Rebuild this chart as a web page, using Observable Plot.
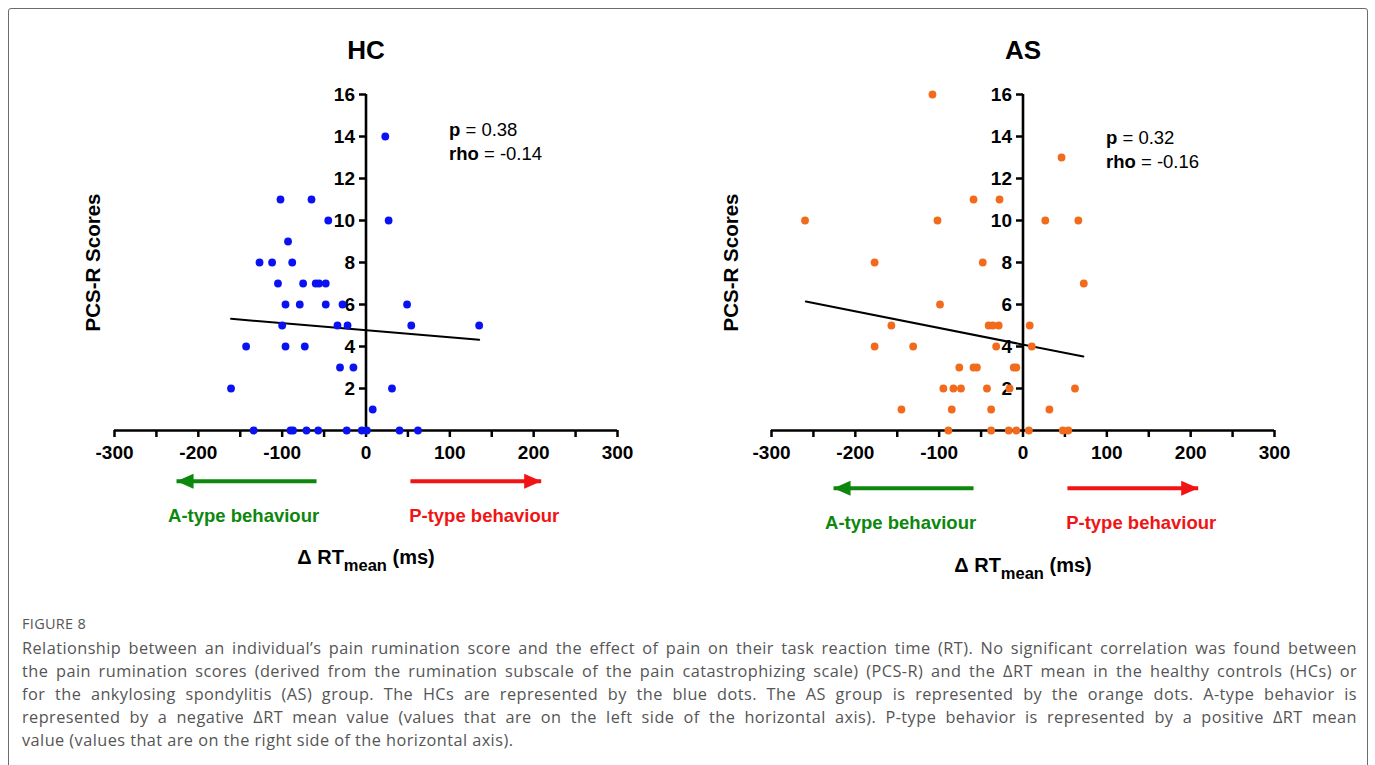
<!DOCTYPE html>
<html>
<head>
<meta charset="utf-8">
<script src="https://cdn.jsdelivr.net/npm/d3@7"></script>
<script src="https://cdn.jsdelivr.net/npm/@observablehq/plot@0.6"></script>
<style>
  html, body { margin: 0; padding: 0; background: #fff; }
  #page { position: relative; width: 1375px; height: 765px; overflow: hidden; background: #fff; }
  #frame { position: absolute; left: 8px; top: 8px; width: 1360px; height: 800px; border: 1px solid #6b6b6b; border-radius: 3px; box-sizing: border-box; }
  .panel { position: absolute; top: 0; }
  .panel svg { overflow: visible; }
  #caption { position: absolute; left: 22px; top: 613px; width: 1335px; font-family: "Open Sans", "Noto Sans", sans-serif; color: #555; }
  #caption .fig { font-size: 14.5px; line-height: 22px; letter-spacing: 0.3px; margin-bottom: 2px; }
  #caption .ln { font-size: 16.3px; line-height: 23px; letter-spacing: 0.45px; text-align: justify; text-align-last: justify; }
  #caption .ln.last { text-align-last: left; }
</style>
</head>
<body>
<div id="page">
  <div id="frame"></div>
  <div id="hc" class="panel" style="left:0px"></div>
  <div id="as" class="panel" style="left:657px"></div>
  <div id="caption"></div>
</div>
<script>
// ---------------- data ----------------
const hcX = [-161, -143, -134, -127, -112, -105, -102, -100, -96, -96, -93, -90, -87, -88, -79, -75, -73, -71, -65, -60, -56, -57, -48, -48, -45, -34, -31, -28, -23, -22, -15, -5, 1, 8, 23, 27, 31, 40, 62, 49, 54, 135];
const hcY = [2, 4, 0, 8, 8, 7, 11, 5, 6, 4, 9, 0, 0, 8, 6, 7, 4, 0, 11, 7, 7, 0, 7, 6, 10, 5, 3, 6, 0, 5, 3, 0, 0, 1, 14, 10, 2, 0, 0, 6, 5, 5];

const asX = [-260, -108, -177, -177, -157, -145, -131, -102, -99, -95, -89, -85, -83, -76, -74, -59, -59, -55, -48, -43, -41, -38, -38, -36, -32, -29, -28, -17, -16, -11, -8, -8, 7, 8, 10.5, 26.6, 31.5, 46, 66, 72.5, 62, 47.5, 54];
const asY = [10, 16, 8, 4, 5, 1, 4, 10, 6, 2, 0, 1, 2, 3, 2, 11, 3, 3, 8, 2, 5, 1, 0, 5, 4, 5, 11, 0, 2, 3, 3, 0, 0, 5, 4, 10, 1, 13, 10, 7, 2, 0, 0];

// fitted regression lines (endpoints)
const hcFitX = [-161, 135];
const hcFitY = [5.32, 4.32];
const asFitX = [-259, 72];
const asFitY = [6.14, 3.52];

// statistics
const statLabels = ["p", "rho"];
const hcStats = ["0.38", "-0.14"];
const asStats = ["0.32", "-0.16"];

// ticks
const xTicks = [-300, -200, -100, 0, 100, 200, 300];
const xMinorTicks = [-250, -150, -50, 50, 150, 250];
const yTicks = [2, 4, 6, 8, 10, 12, 14, 16];

// annotations (in ms along the x axis)
const arrowA = { from: -59, to: -226, label: "A-type behaviour", labelX: -146 };
const arrowP = { from: 53, to: 209, label: "P-type behaviour", labelX: 141 };
const xLabelParts = ["\u0394 RT", "mean", " (ms)"];
const yLabelText = "PCS-R Scores";

const captionHead = "FIGURE 8";
const captionLines = [
  "Relationship between an individual\u2019s pain rumination score and the effect of pain on their task reaction time (RT). No significant correlation was found between",
  "the pain rumination scores (derived from the rumination subscale of the pain catastrophizing scale) (PCS-R) and the \u0394RT mean in the healthy controls (HCs) or",
  "for the ankylosing spondylitis (AS) group. The HCs are represented by the blue dots. The AS group is represented by the orange dots. A-type behavior is",
  "represented by a negative \u0394RT mean value (values that are on the left side of the horizontal axis). P-type behavior is represented by a positive \u0394RT mean",
  "value (values that are on the right side of the horizontal axis)."
];

// ---------------- styling / layout ----------------
const GREEN = "#0d870d";
const RED = "#f01414";
const FONT = "'Liberation Sans', Arial, Helvetica, sans-serif";

const panels = [
  { el: "#hc", title: "HC", xs: hcX, ys: hcY, fitX: hcFitX, fitY: hcFitY, stats: hcStats, color: "#0a12f2", yLabelDx: -21, shift: 0, statShift: 0, xlShift: 0 },
  { el: "#as", title: "AS", xs: asX, ys: asY, fitX: asFitX, fitY: asFitY, stats: asStats, color: "#f26a1c", yLabelDx: -40, shift: 7, statShift: 8, xlShift: 8 }
];

const tickShape = { draw(context, l) { context.moveTo(0, 0); context.lineTo(0, -l); } };
const headRight = { draw(context) { context.moveTo(0, 0); context.lineTo(-17, -7.5); context.lineTo(-17, 7.5); context.closePath(); } };
const headLeft = { draw(context) { context.moveTo(0, 0); context.lineTo(17, -7.5); context.lineTo(17, 7.5); context.closePath(); } };

function drawPanel(p) {
  const pts = p.xs.map((x, i) => ({ x, y: p.ys[i] }));
  const fit = p.fitX.map((x, i) => ({ x, y: p.fitY[i] }));
  const stats = statLabels.map((l, i) => ({ text: `${l} = ${p.stats[i]}`, i }));
  const arrows = [{ ...arrowA, color: GREEN }, { ...arrowP, color: RED }];

  const chart = Plot.plot({
    width: 687,
    height: 600,
    marginLeft: 114,
    marginRight: 70,
    marginTop: 94,
    marginBottom: 170,
    x: { domain: [-300, 300] },
    y: { domain: [0, 16], axis: null },
    style: { fontFamily: FONT, background: "transparent", color: "black", overflow: "visible" },
    marks: [
      // x axis
      Plot.axisX({ ticks: xTicks, tickFormat: d => String(d), tickSize: 7, tickPadding: 8, fontSize: 19, fontWeight: "bold", strokeWidth: 2.5, label: null }),
      Plot.axisX({ ticks: xMinorTicks, tickSize: 7, text: null, strokeWidth: 2.5, label: null }),
      Plot.ruleY([0], { x1: -300, x2: 300, stroke: "black", strokeWidth: 2.6 }),
      // y axis at x = 0
      Plot.ruleX([0], { y1: 0, y2: 16, stroke: "black", strokeWidth: 2.6 }),
      Plot.vector(yTicks, { x: 0, y: d => d, length: 7, rotate: -90, anchor: "start", shape: tickShape, stroke: "black", strokeWidth: 2.5, strokeLinecap: "butt" }),
      Plot.text(yTicks, { x: 0, y: d => d, text: d => String(d), dx: -11, textAnchor: "end", lineAnchor: "middle", fontSize: 19, fontWeight: "bold", fill: "black" }),
      // regression line
      Plot.line(fit, { x: "x", y: "y", stroke: "black", strokeWidth: 2 }),
      // points
      Plot.dot(pts, { x: "x", y: "y", r: 3.9, fill: p.color, stroke: "none" }),
      // title
      Plot.text([p.title], { x: 0, y: 16, dy: -36, lineAnchor: "bottom", textAnchor: "middle", fontSize: 26, fontWeight: "bold", fill: "black" }),
      // y label
      Plot.text([yLabelText], { x: -300, y: 8, dx: p.yLabelDx, rotate: -90, textAnchor: "middle", lineAnchor: "middle", fontSize: 20.5, fontWeight: "bold", fill: "black" }),
      // statistics
      Plot.text([stats[0]], { x: 99, y: 16, dy: 41 + p.statShift, text: "text", textAnchor: "start", lineAnchor: "bottom", fontSize: 18.5, fontWeight: "normal", fill: "black" }),
      Plot.text([stats[1]], { x: 99, y: 16, dy: 65 + p.statShift, text: "text", textAnchor: "start", lineAnchor: "bottom", fontSize: 18.5, fontWeight: "normal", fill: "black" }),
      // behaviour arrows
      Plot.link(arrows, { x1: "from", x2: "to", y1: 0, y2: 0, dy: 50.7 + p.shift, stroke: "color", strokeWidth: 4 }),
      Plot.dot([arrows[0]], { x: "to", y: 0, dy: 50.7 + p.shift, symbol: headLeft, fill: GREEN, stroke: "none" }),
      Plot.dot([arrows[1]], { x: "to", y: 0, dy: 50.7 + p.shift, symbol: headRight, fill: RED, stroke: "none" }),
      Plot.text(arrows, { x: "labelX", y: 0, dy: 91.7 + p.shift, text: "label", fill: "color", textAnchor: "middle", lineAnchor: "bottom", fontSize: 18.5, fontWeight: "bold" }),
      // x label
      Plot.text([xLabelParts.join("")], { x: 0, y: 0, dy: 133.3 + p.xlShift, textAnchor: "middle", lineAnchor: "bottom", fontSize: 20, fontWeight: "bold", fill: "black" })
    ]
  });

  // rich text: bold stat labels and subscript in the x label
  const joined = xLabelParts.join("");
  d3.select(chart).selectAll("text").each(function () {
    const node = d3.select(this);
    if (this.children.length) return;
    const t = this.textContent;
    const m = t.match(/^(p|rho) = (.*)$/);
    if (m) {
      node.text(null);
      node.append("tspan").attr("font-weight", "bold").text(m[1]);
      node.append("tspan").attr("font-weight", "normal").text(" = " + m[2]);
    } else if (t === joined) {
      node.text(null);
      node.append("tspan").text(xLabelParts[0]);
      node.append("tspan").attr("font-size", 16.5).attr("dy", 7.5).text(xLabelParts[1]);
      node.append("tspan").attr("dy", -7.5).text(xLabelParts[2]);
    }
  });

  document.querySelector(p.el).appendChild(chart);
}

panels.forEach(drawPanel);

// caption
const cap = document.getElementById("caption");
const head = document.createElement("div");
head.className = "fig";
head.textContent = captionHead;
cap.appendChild(head);
captionLines.forEach((line, i) => {
  const d = document.createElement("div");
  d.className = "ln" + (i === captionLines.length - 1 ? " last" : "");
  d.textContent = line;
  cap.appendChild(d);
});
</script>
</body>
</html>
